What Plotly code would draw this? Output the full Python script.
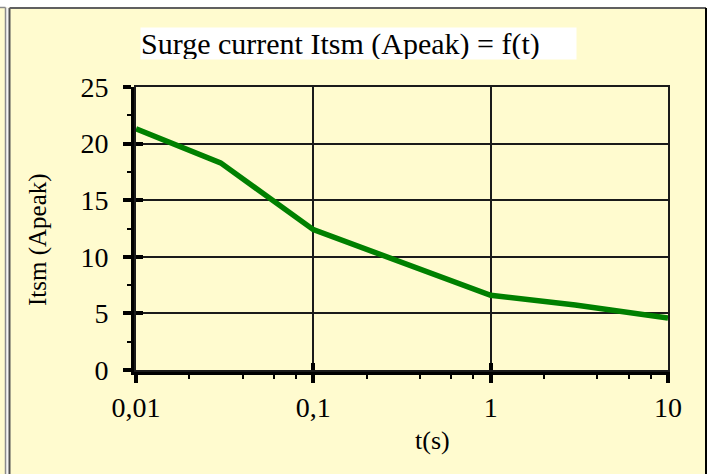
import plotly.graph_objects as go

# ---- data ----
t_values = [0.01, 0.03, 0.1, 1, 3, 10]
itsm_values = [21.3, 18.3, 12.4, 6.6, 5.75, 4.6]

x_tickvals = [0.01, 0.1, 1, 10]
x_ticktext = ["0,01", "0,1", "1", "10"]
x_minor_vals = [m * d for d in [0.01, 0.1, 1] for m in [2, 4, 6, 8]]
y_tickvals = [0, 5, 10, 15, 20, 25]
y_ticktext = ["0", "5", "10", "15", "20", "25"]
y_minor_vals = [2.5, 7.5, 12.5, 17.5, 22.5]

title_text = "Surge current Itsm (Apeak) = f(t)"
x_title = "t(s)"
y_title = "Itsm (Apeak)"

# ---- layout geometry (pixels) ----
W, H = 710, 474
L, R, T, B = 136, 42, 87, 104
PW, PH = W - L - R, H - T - B


def px(x):
    return (x - L) / PW


def py(y):
    return (H - B - y) / PH


YELLOW = "#FFFBCF"
FONT = "Liberation Serif"
GRID = "#1a1a1a"

fig = go.Figure()
fig.add_trace(go.Scatter(
    x=t_values, y=itsm_values, mode="lines",
    line=dict(color="#008000", width=5.5),
    showlegend=False, hoverinfo="skip",
))
# invisible trace to host overlay axes (inside half of crossing ticks, top/right border)
fig.add_trace(go.Scatter(
    x=t_values, y=itsm_values, mode="lines", xaxis="x2", yaxis="y2",
    line=dict(color="rgba(0,0,0,0)", width=0),
    showlegend=False, hoverinfo="skip",
))

axis_font = dict(family=FONT, size=28, color="black")

fig.update_layout(
    width=W, height=H,
    margin=dict(l=L, r=R, t=T, b=B),
    paper_bgcolor=YELLOW, plot_bgcolor=YELLOW,
    xaxis=dict(
        type="log", range=[-2, 1],
        tickvals=x_tickvals, ticktext=x_ticktext,
        showline=True, linewidth=5, linecolor="black",
        ticks="outside", ticklen=8, tickwidth=4, tickcolor="black",
        showgrid=True, gridcolor=GRID, gridwidth=2,
        zeroline=False, tickfont=axis_font,
        minor=dict(tickvals=x_minor_vals, ticks="outside", ticklen=4,
                   tickwidth=2, tickcolor="black", showgrid=False),
    ),
    yaxis=dict(
        range=[0, 25],
        tickvals=y_tickvals, ticktext=y_ticktext,
        showline=True, linewidth=5, linecolor="black",
        ticks="outside", ticklen=8, tickwidth=4, tickcolor="black",
        showgrid=True, gridcolor=GRID, gridwidth=2,
        zeroline=False, tickfont=axis_font, ticklabelstandoff=9,
        minor=dict(tickvals=y_minor_vals, ticks="outside", ticklen=4,
                   tickwidth=2, tickcolor="black", showgrid=False),
    ),
    xaxis2=dict(
        type="log", range=[-2, 1], overlaying="x", anchor="y2", side="bottom",
        tickvals=x_tickvals, showticklabels=False,
        showline=True, mirror=True, linewidth=2, linecolor=GRID,
        ticks="inside", ticklen=7, tickwidth=4,
        tickcolor="black", showgrid=False, zeroline=False,
    ),
    yaxis2=dict(
        range=[0, 25], overlaying="y", anchor="x2", side="left",
        tickvals=y_tickvals, showticklabels=False,
        showline=True, mirror=True, linewidth=2, linecolor=GRID,
        ticks="inside", ticklen=7, tickwidth=4,
        tickcolor="black", showgrid=False, zeroline=False,
    ),
)

# frame decorations
shapes = [
    dict(type="rect", xref="paper", yref="paper",
         x0=px(0), x1=px(W), y0=py(0), y1=py(7.5),
         fillcolor="white", line=dict(width=0), layer="below"),
    dict(type="rect", xref="paper", yref="paper",
         x0=px(707), x1=px(W), y0=py(0), y1=py(H),
         fillcolor="white", line=dict(width=0), layer="below"),
    dict(type="rect", xref="paper", yref="paper",
         x0=px(6), x1=px(9), y0=py(7.5), y1=py(H),
         fillcolor="#F4F4F4", line=dict(width=0), layer="below"),
    dict(type="line", xref="paper", yref="paper",
         x0=px(5.5), x1=px(5.5), y0=py(7.5), y1=py(H),
         line=dict(color="#8a8a8a", width=1.5), layer="below"),
    dict(type="line", xref="paper", yref="paper",
         x0=px(9.5), x1=px(9.5), y0=py(8), y1=py(H),
         line=dict(color="#505050", width=2), layer="below"),
    dict(type="line", xref="paper", yref="paper",
         x0=px(0), x1=px(5.5), y0=py(7.5), y1=py(7.5),
         line=dict(color="#8a8a8a", width=1.5), layer="below"),
    dict(type="line", xref="paper", yref="paper",
         x0=px(9.5), x1=px(706), y0=py(8), y1=py(8),
         line=dict(color="#606060", width=2), layer="below"),
    dict(type="line", xref="paper", yref="paper",
         x0=px(706), x1=px(706), y0=py(8), y1=py(H),
         line=dict(color="black", width=2), layer="below"),
]
fig.update_layout(shapes=shapes)

annotations = [
    dict(text=title_text, xref="paper", yref="paper",
         x=px(140), y=py(43), xanchor="left", yanchor="middle",
         showarrow=False, bgcolor="white", width=435, height=31,
         align="left", borderpad=0,
         font=dict(family=FONT, size=30, color="black")),
    dict(text=y_title, xref="paper", yref="paper",
         x=px(38), y=py(240), xanchor="center", yanchor="middle",
         textangle=-90, showarrow=False,
         font=dict(family=FONT, size=25, color="black")),
    dict(text=x_title, xref="paper", yref="paper",
         x=px(432), y=py(440), xanchor="center", yanchor="middle",
         showarrow=False,
         font=dict(family=FONT, size=26, color="black")),
]
fig.update_layout(annotations=annotations)

fig.write_html("out.html", config={"displayModeBar": False},
               post_script="document.body.style.margin='0';")
